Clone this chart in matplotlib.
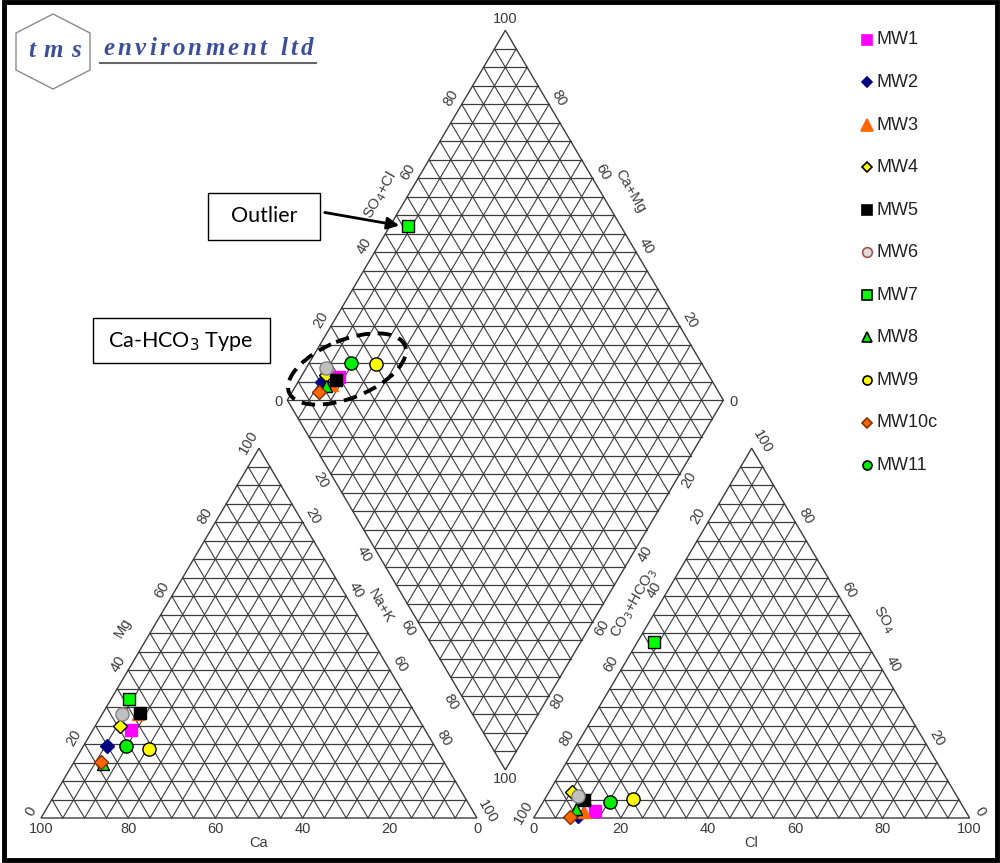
import numpy as np
import matplotlib.pyplot as plt
from matplotlib.patches import Polygon, Rectangle, Ellipse, FancyArrowPatch

# well names and milliequivalent percentages
wells = ["MW1", "MW2", "MW3", "MW4", "MW5", "MW6", "MW7", "MW8", "MW9", "MW10c", "MW11"]
mg = [23.9, 19.5, 28.0, 25.0, 28.5, 28.0, 32.1, 14.5, 18.6, 15.2, 19.5]
na_k = [8.7, 5.5, 8.2, 5.6, 8.5, 4.5, 4.1, 7.0, 15.5, 6.2, 9.7]
so4 = [1.9, 0.5, 1.7, 7.1, 5.0, 6.0, 47.6, 2.4, 5.1, 0.3, 4.2]
cl = [13.0, 10.0, 10.6, 5.2, 9.0, 7.2, 3.7, 8.4, 20.2, 8.2, 15.5]

markers = ["s", "D", "^", "D", "s", "o", "s", "^", "o", "D", "o"]
faces = ["#ff00ff", "#000080", "#ff6600", "#ffff00", "#000000", "#c0c0c0",
         "#00ff00", "#00ee00", "#ffff00", "#ff6600", "#00ee00"]
edges = ["#ff00ff", "#000080", "#ff6600", "#000000", "#000000", "#808080",
         "#000000", "#000000", "#000000", "#803000", "#000000"]
sizes = [9, 7.5, 9, 7.5, 9, 9.5, 8.5, 8.5, 9.5, 7.5, 9.5]
key_sizes = [7.5, 5.5, 8, 5, 7.5, 7, 7.5, 7.5, 6.5, 4.8, 6.5]

GAP = 13.0
H = np.sqrt(3) / 2
SX, SY = 4.36, 4.27      # pixels per percent unit
GRID = "#3c3c3c"
LBL = "#3a3a3a"

plt.rcParams["font.family"] = ["Liberation Sans", "DejaVu Sans"]

fig = plt.figure(figsize=(10, 8.63), dpi=100)
ax = fig.add_axes([0, 0, 1, 1])
ax.set_xlim(-41 / SX, 959 / SX)
ax.set_ylim(-45 / SY, 818 / SY)
ax.axis("off")


def tri_grid(ox):
    for i in range(1, 20):
        p = i * 5
        ax.plot([ox + p / 2, ox + 100 - p / 2], [H * p, H * p], color=GRID, lw=0.9)
        ax.plot([ox + p, ox + p + (100 - p) / 2], [0, H * (100 - p)], color=GRID, lw=0.8)
        ax.plot([ox + p, ox + p / 2], [0, H * p], color=GRID, lw=0.8)
    ax.add_patch(Polygon([[ox, 0], [ox + 100, 0], [ox + 50, H * 100]], closed=True,
                         fill=False, ec=GRID, lw=1.0))


# diamond corners and unit steps
L = np.array([50 + GAP / 2, H * (100 + GAP)])
dB = np.array([0.5, -H])
dT = np.array([0.5, H])
T = L + 100 * dT
B = L + 100 * dB
R = B + 100 * dT


def diamond_grid():
    for i in range(1, 20):
        a = i * 5
        p0 = L + a * dB
        ax.plot([p0[0], (p0 + 100 * dT)[0]], [p0[1], (p0 + 100 * dT)[1]], color=GRID, lw=0.8)
        p0 = L + a * dT
        ax.plot([p0[0], (p0 + 100 * dB)[0]], [p0[1], (p0 + 100 * dB)[1]], color=GRID, lw=0.8)
    for j in range(1, 40):
        y = B[1] + j * H * 5
        half = 50 - abs(y - L[1]) / H * 0.5
        ax.plot([T[0] - half, T[0] + half], [y, y], color=GRID, lw=0.9)
    ax.add_patch(Polygon([L, B, R, T], closed=True, fill=False, ec=GRID, lw=1.0))


ox = 100 + GAP
tri_grid(0)
tri_grid(ox)
diamond_grid()


def label(p, s, rot=0, off=(0, 0), size=10.5):
    # off is a screen offset in pixels (right, down)
    ax.text(p[0] + off[0] / SX, p[1] - off[1] / SY, s, rotation=rot, ha="center",
            va="center", fontsize=size, color=LBL, rotation_mode="anchor")


def edge_labels(p0, p1, texts, rot, nrm, dist=12):
    p0, p1 = np.asarray(p0, float), np.asarray(p1, float)
    for k, s in enumerate(texts):
        if s is None:
            continue
        f = k / (len(texts) - 1)
        label(p0 + f * (p1 - p0), s, rot, (nrm[0] * dist, nrm[1] * dist))


def edge_name(p0, p1, s, f, rot, nrm, dist):
    p0, p1 = np.asarray(p0, float), np.asarray(p1, float)
    label(p0 + f * (p1 - p0), s, rot, (nrm[0] * dist, nrm[1] * dist))


UL = (-0.862, -0.507)   # outward normals in screen pixels
UR = (0.862, -0.507)
DL = (-0.862, 0.507)
DR = (0.78, 0.45)
up = ["0", "20", "40", "60", "80", "100"]
down = up[::-1]

# cation triangle
c0, c1, c2 = (0, 0), (100, 0), (50, H * 100)
for k, s in enumerate(down):
    label((k * 20, 0), s, off=(0, 11))
label((50, 0), "Ca", off=(0, 25))
edge_labels(c0, c2, up, 60, UL)
edge_labels(c2, c1, [None] + up[1:], -60, UR)
edge_name(c0, c2, "Mg", 0.48, 60, UL, 26)
edge_name(c2, c1, "Na+K", 0.46, -60, UR, 25)

# anion triangle
a0, a1, a2 = (ox, 0), (ox + 100, 0), (ox + 50, H * 100)
for k, s in enumerate(up):
    label((ox + k * 20, 0), s, off=(0, 11))
label((ox + 50, 0), "Cl", off=(0, 25))
edge_labels(a0, a2, down[:-1] + [None], 60, UL)
edge_labels(a2, a1, down, -60, UR)
edge_name(a0, a2, "CO$_3$+HCO$_3$", 0.55, 60, UL, 22)
edge_name(a2, a1, "SO$_4$", 0.50, -60, UR, 26)

# diamond
label(T, "100", off=(0, -11))
label(B, "100", off=(0, 9))
label(L, "0", off=(-9, 2))
label(R, "0", off=(10, 2))
inner = [None, "20", "40", "60", "80", None]
edge_labels(L, T, inner, 60, UL)
edge_labels(T, R, inner[::-1], -60, UR)
edge_labels(L, B, inner, -60, DL)
edge_labels(B, R, inner[::-1], 60, DR)
edge_name(L, T, "SO$_4$+Cl", 0.52, 60, UL, 24)
edge_name(T, R, "Ca+Mg", 0.47, -60, UR, 26)

# samples in the three fields
for i, w in enumerate(wells):
    cx = na_k[i] + 0.5 * mg[i]
    cy = H * mg[i]
    axx = ox + cl[i] + 0.5 * so4[i]
    ay = H * so4[i]
    d = L + na_k[i] * dB + (so4[i] + cl[i]) * dT
    ax.plot([cx, axx, d[0]], [cy, ay, d[1]], marker=markers[i], ms=sizes[i], mfc=faces[i],
            mec=edges[i], mew=1.0, ls="none")

# overlay in pixel coordinates for frame, logo, legend and notes
ov = fig.add_axes([0, 0, 1, 1], facecolor="none")
ov.set_xlim(0, 1000)
ov.set_ylim(863, 0)
ov.axis("off")

ov.add_patch(Rectangle((4, 2), 993, 858, fill=False, ec="black", lw=3.5))

hexagon = [[53, 14], [90, 33], [90, 70], [53, 89], [16, 70], [16, 33]]
ov.add_patch(Polygon(hexagon, closed=True, fill=False, ec="#8a8a8a", lw=1.0))
blue = "#3d4f9c"
renderer = fig.canvas.get_renderer()


def tracked(x0, x1, y, s, size):
    # spread the letters of s evenly between x0 and x1
    style = dict(fontsize=size, color=blue, family="Liberation Serif", style="italic",
                 weight="bold", va="baseline", ha="left")
    widths = []
    for ch in s:
        t = ov.text(0, 0, ch if ch != " " else "i", **style)
        widths.append(t.get_window_extent(renderer).width)
        t.remove()
    gap = (x1 - x0 - sum(widths)) / (len(s) - 1)
    x = x0
    for ch, w in zip(s, widths):
        if ch != " ":
            ov.text(x, y, ch, **style)
        x += w + gap


tracked(28, 81, 57, "tms", 18)
tracked(103, 313, 55, "environment ltd", 18)
ov.plot([100, 316], [63, 63], color="#666666", lw=1.5)

# legend
for i, w in enumerate(wells):
    y = 40 + i * 42.5
    mfc, mec = faces[i], edges[i]
    if w == "MW6":
        mfc, mec = "#e0dcdc", "#a05555"
    ov.plot(867, y, marker=markers[i], ms=key_sizes[i], mfc=mfc, mec=mec,
            mew=1.2, ls="none")
    ov.text(876, y, w, fontsize=13, color="#222222", ha="left", va="center")

# notes
ov.add_patch(Rectangle((208, 193), 112, 47, fill=False, ec="black", lw=1.0))
ov.text(264, 216, "Outlier", fontsize=15.5, family="Lato", ha="center", va="center")
ov.add_patch(FancyArrowPatch((322, 212), (402, 226), arrowstyle="-|>", mutation_scale=18,
                             color="black", lw=2))
ov.add_patch(Rectangle((93, 318), 177, 45, fill=False, ec="black", lw=1.0))
ov.text(181, 341, "Ca-HCO$_3$ Type", fontsize=15.5, family="Lato", ha="center", va="center")
ov.add_patch(Ellipse((347, 369), 125, 58, angle=-22, fill=False, ec="black", lw=2.8,
                     ls=(0, (3.5, 2))))

fig.savefig("out.png", dpi=100)
